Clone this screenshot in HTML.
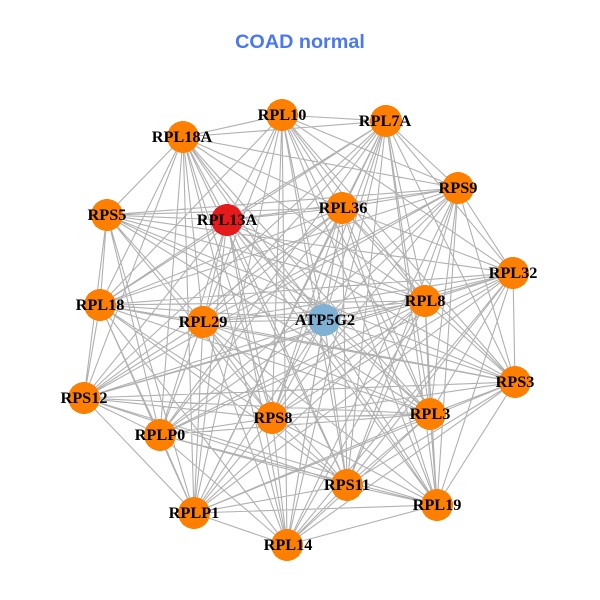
<!DOCTYPE html>
<html><head><meta charset="utf-8"><style>html,body{margin:0;padding:0;background:#fff}svg{display:block}</style></head><body>
<svg width="600" height="600" viewBox="0 0 600 600" xmlns="http://www.w3.org/2000/svg">
<rect width="600" height="600" fill="#fff"/>
<text x="300" y="48" text-anchor="middle" font-family="Liberation Sans, sans-serif" font-weight="bold" font-size="19.8" fill="#4a78f0">COAD normal</text>
<path fill="none" stroke="#b0b0b0" stroke-width="1.1" d="
M282 115L386 121M282 115L458 188M282 115L513 273M282 115L515 382M282 115L437 505M282 115L287 545M282 115L194 513M282 115L100 305M282 115L183 137M282 115L227 220M282 115L342 208M282 115L425 301M282 115L324 320M282 115L203 322M282 115L272 418M282 115L430 414M282 115L347 485M282 115L160 435
M386 121L458 188M386 121L513 273M386 121L515 382M386 121L437 505M386 121L287 545M386 121L194 513M386 121L84 398M386 121L100 305M386 121L227 220M386 121L342 208M386 121L425 301M386 121L324 320M386 121L203 322M386 121L272 418M386 121L430 414M386 121L347 485M386 121L160 435M386 121L183 137
M458 188L513 273M458 188L515 382M458 188L437 505M458 188L287 545M458 188L84 398M458 188L100 305M458 188L183 137M458 188L107 215M458 188L227 220M458 188L342 208M458 188L425 301M458 188L324 320M458 188L203 322M458 188L272 418M458 188L430 414M458 188L347 485M458 188L160 435
M513 273L515 382M513 273L437 505M513 273L287 545M513 273L194 513M513 273L84 398M513 273L100 305M513 273L107 215M513 273L342 208M513 273L425 301M513 273L324 320M513 273L203 322M513 273L272 418M513 273L430 414M513 273L347 485M513 273L160 435
M515 382L437 505M515 382L287 545M515 382L194 513M515 382L84 398M515 382L100 305M515 382L107 215M515 382L227 220M515 382L342 208M515 382L425 301M515 382L324 320M515 382L203 322M515 382L272 418M515 382L430 414M515 382L347 485
M437 505L287 545M437 505L194 513M437 505L84 398M437 505L183 137M437 505L227 220M437 505L342 208M437 505L425 301M437 505L324 320M437 505L203 322M437 505L272 418M437 505L430 414M437 505L347 485M437 505L160 435
M287 545L194 513M287 545L100 305M287 545L183 137M287 545L227 220M287 545L342 208M287 545L425 301M287 545L324 320M287 545L203 322M287 545L272 418M287 545L430 414M287 545L347 485M287 545L160 435
M194 513L84 398M194 513L100 305M194 513L107 215M194 513L183 137M194 513L227 220M194 513L342 208M194 513L425 301M194 513L324 320M194 513L203 322M194 513L272 418M194 513L430 414M194 513L347 485M194 513L160 435
M84 398L100 305M84 398L107 215M84 398L183 137M84 398L227 220M84 398L342 208M84 398L425 301M84 398L324 320M84 398L203 322M84 398L272 418M84 398L430 414M84 398L347 485M84 398L160 435
M100 305L107 215M100 305L183 137M100 305L227 220M100 305L342 208M100 305L425 301M100 305L324 320M100 305L203 322M100 305L272 418M100 305L430 414M100 305L347 485M100 305L160 435
M107 215L183 137M107 215L227 220M107 215L342 208M107 215L425 301M107 215L324 320M107 215L203 322M107 215L272 418M107 215L430 414M107 215L160 435
M183 137L227 220M183 137L342 208M183 137L425 301M183 137L324 320M183 137L203 322M183 137L272 418M183 137L430 414M183 137L347 485M183 137L160 435
M227 220L342 208M227 220L425 301M227 220L324 320M227 220L203 322M227 220L272 418M227 220L430 414M227 220L347 485M227 220L160 435
M342 208L425 301M342 208L324 320M342 208L203 322M342 208L272 418M342 208L430 414M342 208L347 485M342 208L160 435
M425 301L324 320M425 301L203 322M425 301L272 418M425 301L430 414M425 301L347 485M425 301L160 435
M324 320L203 322M324 320L272 418M324 320L430 414M324 320L347 485M324 320L160 435
M203 322L272 418M203 322L430 414M203 322L347 485M203 322L160 435
M272 418L430 414M272 418L347 485M272 418L160 435
M430 414L347 485M430 414L160 435
M347 485L160 435"/>
<g fill="#ff7f00" shape-rendering="crispEdges">
<circle cx="282" cy="115" r="16"/><circle cx="386" cy="121" r="16"/><circle cx="458" cy="188" r="16"/><circle cx="513" cy="273" r="16"/><circle cx="515" cy="382" r="16"/><circle cx="437" cy="505" r="16"/><circle cx="287" cy="545" r="16"/><circle cx="194" cy="513" r="16"/><circle cx="84" cy="398" r="16"/><circle cx="100" cy="305" r="16"/><circle cx="107" cy="215" r="16"/><circle cx="183" cy="137" r="16"/><circle cx="342" cy="208" r="16"/><circle cx="425" cy="301" r="16"/><circle cx="203" cy="322" r="16"/><circle cx="272" cy="418" r="16"/><circle cx="430" cy="414" r="16"/><circle cx="347" cy="485" r="16"/><circle cx="160" cy="435" r="16"/>
<circle cx="227" cy="220" r="16" fill="#e41a1c"/>
<circle cx="324" cy="320" r="16" fill="#7fb1d5"/>
</g>
<g font-family="Liberation Serif, serif" font-weight="bold" font-size="16.3" fill="#000" text-anchor="middle">
<text x="282" y="120">RPL10</text><text x="385" y="126">RPL7A</text><text x="458" y="193">RPS9</text><text x="513" y="278">RPL32</text><text x="515" y="387">RPS3</text><text x="437" y="510">RPL19</text><text x="288" y="550">RPL14</text><text x="194" y="518">RPLP1</text><text x="84" y="403">RPS12</text><text x="100" y="310">RPL18</text><text x="107" y="220">RPS5</text><text x="182" y="142">RPL18A</text><text x="227" y="225">RPL13A</text><text x="343" y="213">RPL36</text><text x="425" y="306">RPL8</text><text x="325" y="325">ATP5G2</text><text x="203" y="327">RPL29</text><text x="273" y="423">RPS8</text><text x="430" y="419">RPL3</text><text x="347" y="490">RPS11</text><text x="160" y="440">RPLP0</text>
</g>
</svg>
</body></html>
